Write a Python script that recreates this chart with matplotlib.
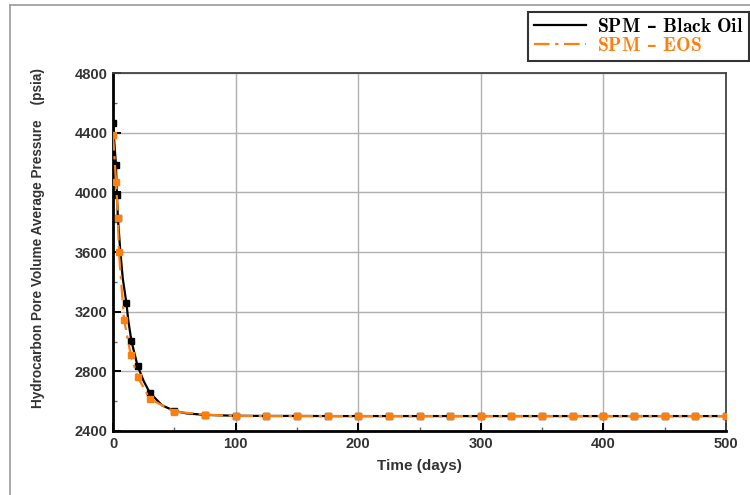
import matplotlib
matplotlib.use("Agg")
import matplotlib.pyplot as plt
from matplotlib.lines import Line2D
from matplotlib.ticker import MultipleLocator

# Black oil run: line points, markers on a subset
bo_days = [0, 2.4, 3.2, 4.0, 6, 8, 10.9, 12.5, 15, 20, 25, 30, 40, 50, 60, 75,
           100, 125, 150, 175, 200, 225, 250, 275, 300, 325, 350, 375, 400,
           425, 450, 475, 500]
bo_psia = [4463, 4183, 3982, 3826, 3600, 3420, 3260, 3140, 3004, 2838, 2735, 2657,
           2572, 2535, 2518, 2508,
           2502, 2501, 2501, 2500, 2500, 2500, 2500, 2500, 2500, 2500, 2500, 2500,
           2500, 2500, 2500, 2500, 2500]
bo_marks = [0, 1, 2, 3, 6, 8, 9, 11, 13, 15] + list(range(16, 33))

# EOS run
eos_days = [0, 2.5, 4.0, 4.8, 9.0, 14.5, 20, 30, 50, 75,
            100, 125, 150, 175, 200, 225, 250, 275, 300, 325, 350, 375, 400,
            425, 450, 475, 500]
eos_psia = [4384, 4071, 3826, 3600, 3145, 2910, 2765, 2615, 2530, 2510,
            2501, 2500, 2500, 2500, 2500, 2500, 2500, 2500, 2500, 2500, 2500, 2500,
            2500, 2500, 2500, 2500, 2500]

orange = "#FF7F0E"
dashdot = (0, (7, 2.5, 1.5, 2.5))

plt.rcParams["mathtext.fontset"] = "cm"

fig = plt.figure(figsize=(7.5, 4.95), dpi=100)
ax = fig.add_axes([113 / 750, 64 / 495, 613 / 750, 358 / 495])

ax.plot(bo_days, bo_psia, color="black", lw=1.6, marker="s", ms=4.5,
        markevery=bo_marks, zorder=3)
ax.plot(eos_days, eos_psia, color=orange, lw=1.6, ls=dashdot,
        marker="s", ms=5, zorder=4)

ax.set_xlim(0, 500)
ax.set_ylim(2400, 4800)
ax.xaxis.set_major_locator(MultipleLocator(100))
ax.xaxis.set_minor_locator(MultipleLocator(50))
ax.yaxis.set_major_locator(MultipleLocator(400))
ax.yaxis.set_minor_locator(MultipleLocator(200))
ax.grid(True, which="major", color="#b0b0b0", lw=1.0, zorder=0)

ax.tick_params(which="both", direction="in", top=False, right=False,
               labelsize=10.5, labelcolor="#333333", pad=4)
ax.tick_params(which="major", length=6, width=1.4)
ax.tick_params(which="minor", length=3, width=1.0, color="#666666")
for lab in ax.get_xticklabels() + ax.get_yticklabels():
    lab.set_fontweight("bold")
    lab.set_fontfamily("Liberation Sans")

for side in ["left", "bottom"]:
    ax.spines[side].set_linewidth(2.0)
    ax.spines[side].set_color("black")
for side in ["top", "right"]:
    ax.spines[side].set_linewidth(1.3)
    ax.spines[side].set_color("#444444")

ax.set_xlabel("Time (days)", fontsize=11, fontweight="bold", color="#333333",
              family="Liberation Sans", labelpad=6)
ax.set_ylabel("Hydrocarbon Pore Volume Average Pressure    (psia)", fontsize=9.8,
              fontweight="bold", color="#333333", family="Liberation Sans")
ax.yaxis.set_label_coords(-0.111, 0.539)

# outer frame of the original exported picture
fig.add_artist(Line2D([10 / 750, 10 / 750], [0, 1 - 5 / 495], color="#999999", lw=1.2))
fig.add_artist(Line2D([10 / 750, 1], [1 - 5 / 495, 1 - 5 / 495], color="#999999", lw=1.2))

handles = [Line2D([], [], color="black", lw=1.6),
           Line2D([], [], color=orange, lw=1.6, ls=dashdot)]
labels = [r"$\mathbf{SPM}$ – $\mathbf{Black\ Oil}$", r"$\mathbf{SPM}$ – $\mathbf{EOS}$"]
leg = fig.legend(handles, labels, loc="upper left",
                 bbox_to_anchor=(528 / 750, 1 - 12 / 495), borderaxespad=0,
                 prop={"family": "DejaVu Serif", "weight": "bold", "size": 14},
                 frameon=True, fancybox=False, handlelength=2.7,
                 labelspacing=0.05, borderpad=0.3, handletextpad=0.55)
leg.get_frame().set_edgecolor("black")
leg.get_frame().set_linewidth(1.5)
leg.get_texts()[1].set_color(orange)

fig.savefig("out.png", dpi=100)
